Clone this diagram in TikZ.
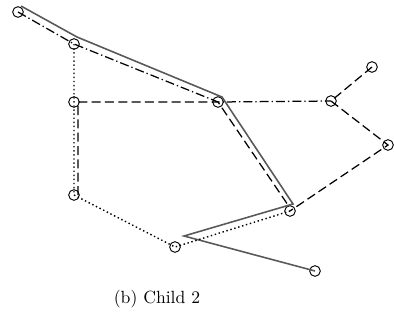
\documentclass[tikz,border=0pt]{standalone}
\begin{document}
\begin{tikzpicture}[x=0.6pt,y=-0.6pt,line width=0.75pt,
  vtx/.style={circle,draw,inner sep=0pt,minimum size=6.4pt,line width=0.55pt},
  dsh/.style={dash pattern=on 5.4pt off 2.6pt},
  dshdot/.style={dash pattern=on 5.4pt off 1.8pt on 0.8pt off 1.8pt},
  dots/.style={line width=0.85pt,dash pattern=on 0.85pt off 1.6pt},
  route/.style={black!65,line width=0.95pt}]
  \useasboundingbox (0,0) rectangle (394,322);
  % vertices
  \node[vtx] (a) at (18,12) {};
  \node[vtx] (b) at (74,44) {};
  \node[vtx] (c) at (74,102) {};
  \node[vtx] (d) at (218,102) {};
  \node[vtx] (e) at (331,101) {};
  \node[vtx] (f) at (372,67) {};
  \node[vtx] (g) at (388,145) {};
  \node[vtx] (h) at (290,211) {};
  \node[vtx] (i) at (74,195) {};
  \node[vtx] (j) at (175,247) {};
  \node[vtx] (k) at (315,271) {};
  \coordinate (a') at ([shift={(3,-6)}]a.center);
  \coordinate (b') at ([shift={(3,-7)}]b.center);
  \coordinate (d') at ([shift={(4,-5)}]d.center);
  \coordinate (h') at ([shift={(3,-7)}]h.center);
  \coordinate (j') at ([shift={(9,-11)}]j.center);
  \coordinate (c') at ([shift={(4,0)}]c.center);
  \coordinate (i') at ([shift={(4,0)}]i.center);
  % solid route
  \draw[route] (a') -- (b') -- (d') -- (h') -- (j') -- (k.center);
  % dash-dot route
  \draw[dshdot] (a.center) -- (b.center) -- (d.center) -- (e.center);
  % dotted route
  \draw[dots] (b.center) -- (c.center) -- (i.center) -- (j.center) -- (h.center);
  % dashed route
  \draw[dsh] (i') -- (c') -- (d.center) -- ([shift={(-2,-6)}]h.center);
  \draw[dsh] (f.center) -- (e.center) -- (g.center) -- (h.center);
  \node[font=\fontsize{10.6}{13}\selectfont] (cap) at (157,299) {(b) Child 2};
\end{tikzpicture}
\end{document}
